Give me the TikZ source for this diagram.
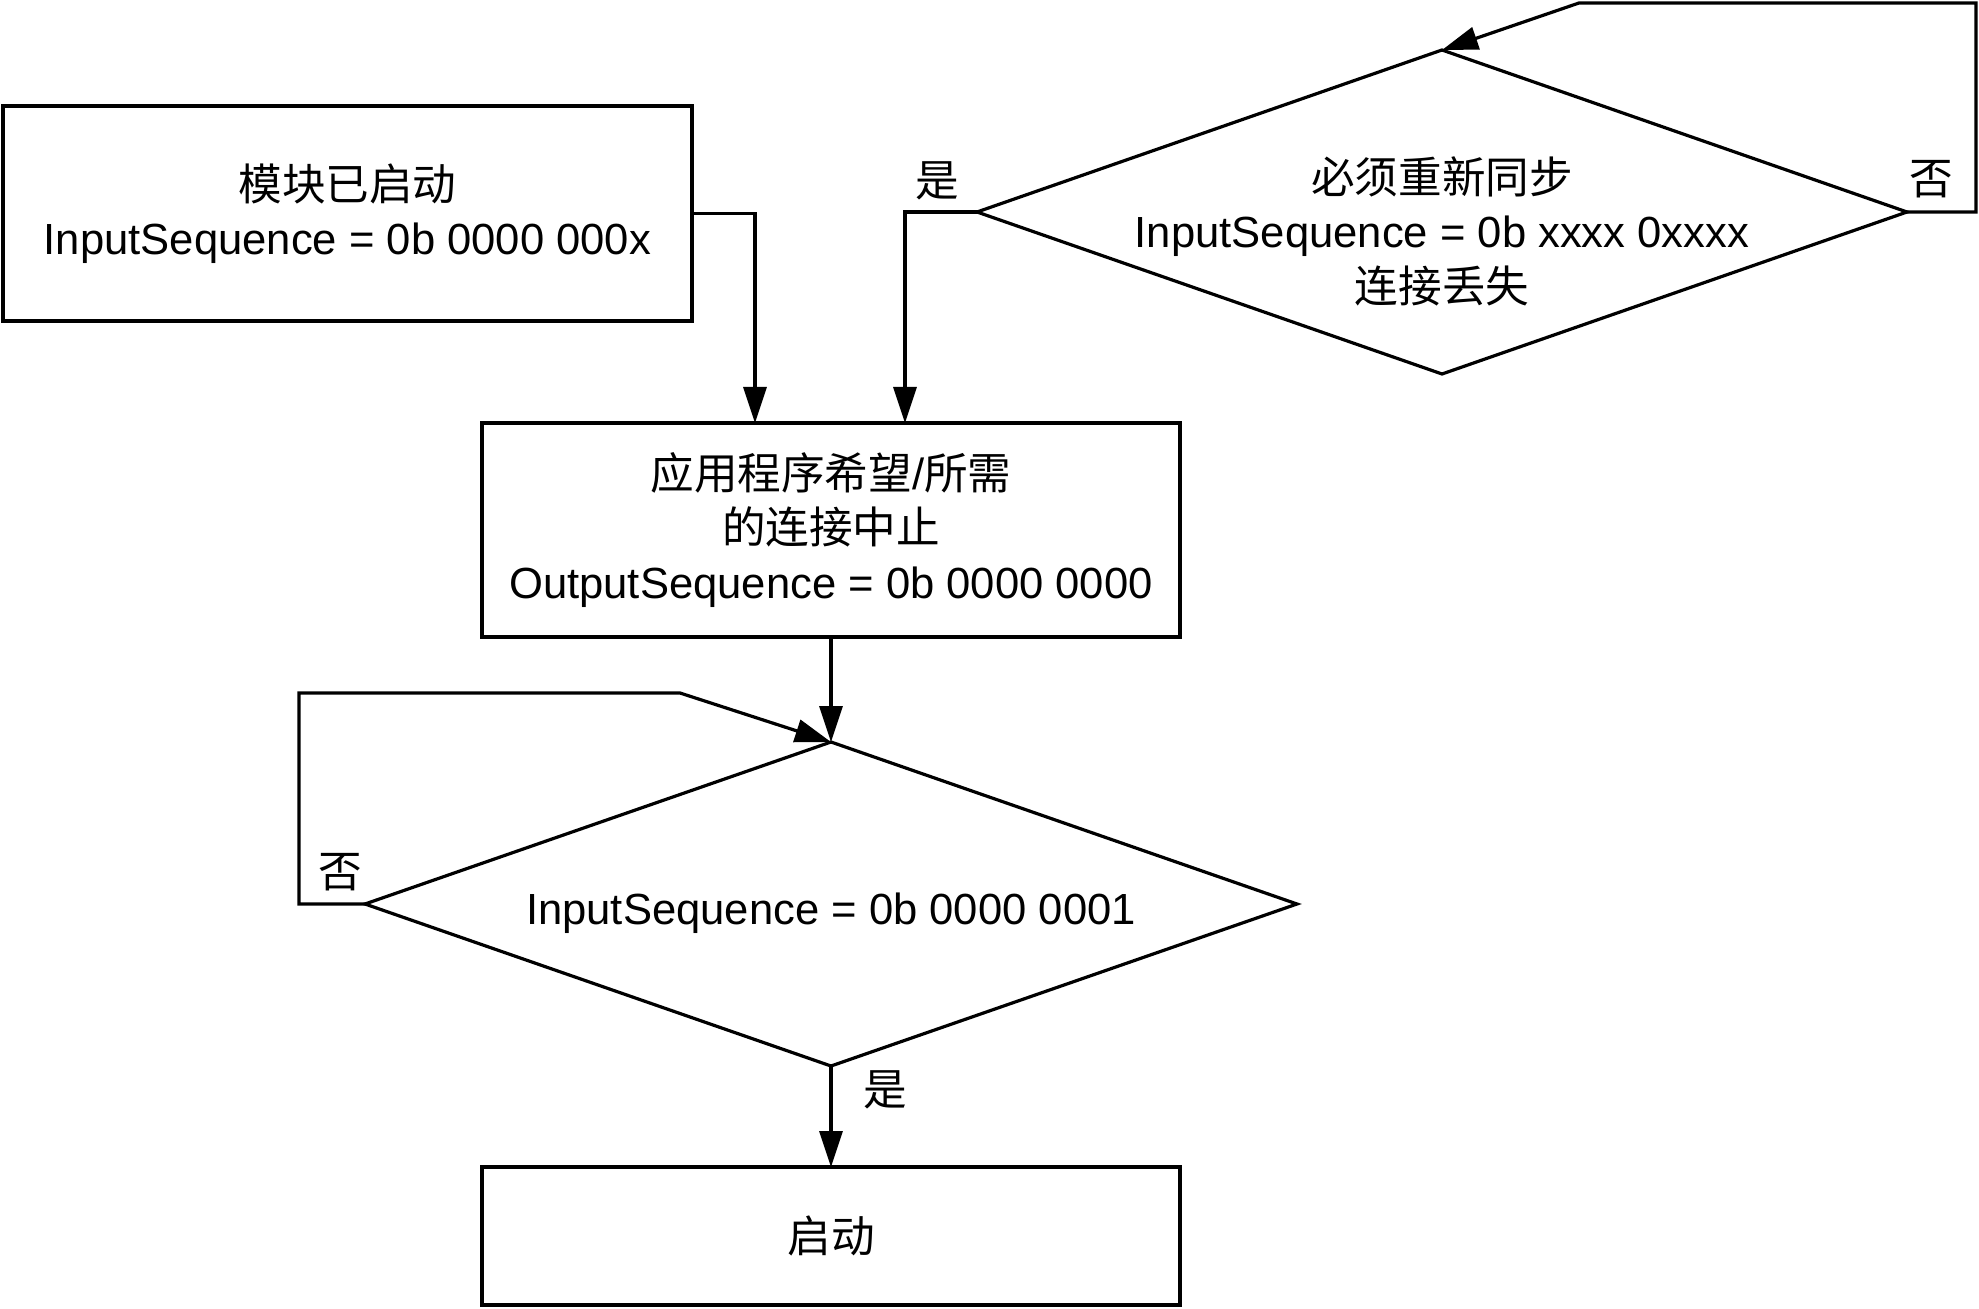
\documentclass[tikz,border=0pt]{standalone}
\usepackage{fontspec}
\setmainfont{Liberation Sans}
\newfontfamily\cjk{Noto Sans CJK SC}
\usetikzlibrary{shapes.geometric,arrows.meta}
\begin{document}
\begin{tikzpicture}[x=0.5pt,y=-0.5pt,
  every node/.style={font=\fontsize{21.8pt}{27.3pt}\selectfont},
  box/.style={draw,line width=1.6pt,rectangle,inner sep=0pt,outer sep=0pt,align=center},
  dia/.style={draw,line width=1.6pt,diamond,inner sep=0pt,outer sep=0pt},
  txt/.style={align=center,inner sep=0pt},
  arr/.style={line width=1.6pt,-{Triangle[length=18pt,width=11.5pt]}},
  ln/.style={line width=1.6pt}]
\useasboundingbox (0,0) rectangle (1979,1309);

% boxes
\node[box,minimum width=344.5pt,minimum height=107.5pt] (b1) at (347.5,213.5)
  {{\cjk 模块已启动}\\InputSequence = 0b 0000 000x};
\node[box,minimum width=349pt,minimum height=107pt] (b2) at (831,530)
  {{\cjk 应用程序希望}/{\cjk 所需}\\{\cjk 的连接中止}\\OutputSequence = 0b 0000 0000};
\node[box,minimum width=349pt,minimum height=69pt] (b3) at (831,1236)
  {{\cjk 启动}};

% diamonds
\node[dia,minimum width=465pt,minimum height=162pt] (d1) at (1442,212) {};
\node[txt] (t1) at (1442,231)
  {{\cjk 必须重新同步}\\InputSequence = 0b xxxx 0xxxx\\{\cjk 连接丢失}};
\node[dia,minimum width=466pt,minimum height=162pt] (d2) at (831,904) {};
\node[txt] (t2) at (831,913) {InputSequence = 0b 0000 0001};

% labels
\node[txt] (y1) at (937,181) {\cjk 是};
\node[txt] (n1) at (1931,179) {\cjk 否};
\node[txt] (n2) at (340,872) {\cjk 否};
\node[txt] (y2) at (885,1090) {\cjk 是};

% loop corner coordinates
\coordinate (l1) at (1976,3);
\coordinate (l1b) at (1579,3);
\coordinate (l2) at (299,693);
\coordinate (l2b) at (680,693);

% connectors
\draw[arr] (b1.east) -| ([xshift=136.5pt]b2.north west);
\draw[arr] (d1.west) -| ([xshift=211.5pt]b2.north west);
\draw[arr] (d1.east) -| (l1) -- (l1b) -- (d1.north);
\draw[arr] (b2.south) -- (d2.north);
\draw[arr] (d2.west) -| (l2) -- (l2b) -- (d2.north);
\draw[arr] (d2.south) -- (b3.north);
\end{tikzpicture}
\end{document}
